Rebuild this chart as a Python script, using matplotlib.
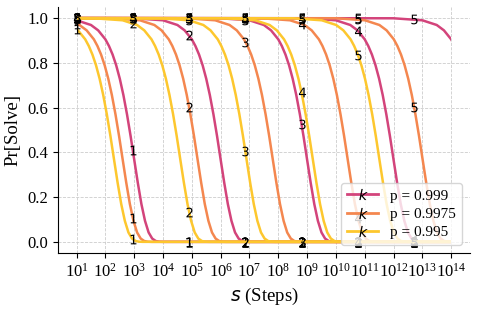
import numpy as np
import matplotlib
matplotlib.use("Agg")
import matplotlib.pyplot as plt
from matplotlib.lines import Line2D
from matplotlib.patches import Rectangle
from matplotlib.ticker import NullLocator

plt.rcParams["font.family"] = "Liberation Serif"
plt.rcParams["mathtext.fontset"] = "dejavusans"

p_labels = ["p = 0.999", "p = 0.9975", "p = 0.995"]
colors = ["#d3447b", "#f4874f", "#fdc72e"]
ks = [1, 2, 3, 4, 5]

# log10(s) where each curve has dropped to ~0.37, for k = 1..5
mid_999 = [3.00, 6.00, 9.00, 12.00, 15.00]
mid_9975 = [2.60, 5.20, 7.81, 10.41, 13.01]
mid_995 = [2.30, 4.60, 6.90, 9.20, 11.51]

# every curve has the same drop-off shape: offset in decades -> Pr[Solve]
shape_u = [-14, -3, -2, -1.5, -1.25, -1.0, -0.875, -0.75, -0.625, -0.5, -0.375,
           -0.25, -0.125, 0, 0.125, 0.25, 0.375, 0.5, 0.625, 0.75, 0.875, 1.0, 14]
shape_pr = [1.0, 0.999, 0.990, 0.969, 0.945, 0.905, 0.875, 0.837, 0.789, 0.729, 0.656,
            0.570, 0.473, 0.368, 0.264, 0.169, 0.094, 0.042, 0.0147, 0.0036, 0.0006, 0.0, 0.0]

# numbered k labels along each curve
label_logs = [1.0, 2.952, 4.904, 6.856, 8.808, 10.760, 12.712]
label_999 = [
    [0.990, 0.409, 0.0, 0.0, 0.0, 0.0, 0.0],
    [1.0, 0.999, 0.923, 0.001, 0.0, 0.0, 0.0],
    [1.0, 1.0, 1.0, 0.993, 0.526, 0.0, 0.0],
    [1.0, 1.0, 1.0, 1.0, 0.999, 0.944, 0.006],
    [1.0, 1.0, 1.0, 1.0, 1.0, 1.0, 0.995],
]
label_9975 = [
    [0.975, 0.106, 0.0, 0.0, 0.0, 0.0, 0.0],
    [1.0, 0.994, 0.603, 0.0, 0.0, 0.0, 0.0],
    [1.0, 1.0, 0.999, 0.895, 0.0, 0.0, 0.0],
    [1.0, 1.0, 1.0, 1.0, 0.975, 0.107, 0.0],
    [1.0, 1.0, 1.0, 1.0, 1.0, 0.994, 0.604],
]
label_995 = [
    [0.951, 0.011, 0.0, 0.0, 0.0, 0.0, 0.0],
    [1.0, 0.978, 0.135, 0.0, 0.0, 0.0, 0.0],
    [1.0, 1.0, 0.990, 0.408, 0.0, 0.0, 0.0],
    [1.0, 1.0, 1.0, 0.996, 0.669, 0.0, 0.0],
    [1.0, 1.0, 1.0, 1.0, 0.998, 0.835, 0.0],
]

fig, ax = plt.subplots(figsize=(4.78, 3.12), dpi=100)
fig.subplots_adjust(left=0.121, right=0.983, bottom=0.189, top=0.978)
ax.set_xscale("log")
ax.set_xlim(10 ** 0.35, 10 ** 14.65)
ax.set_ylim(-0.05, 1.05)

# curves only run from 10^1 to 10^14
clip = Rectangle((10, -1), 1e14 - 10, 3, transform=ax.transData)

all_mids = [mid_999, mid_9975, mid_995]
all_labels = [label_999, label_9975, label_995]
for mids, labs, c in zip(all_mids, all_labels, colors):
    for k, m, ly in zip(ks, mids, labs):
        x = 10 ** (m + np.array(shape_u))
        line, = ax.plot(x, shape_pr, color=c, lw=1.8)
        line.set_clip_path(clip)
        ax.plot(10 ** np.array(label_logs), ly, ls="none", marker=f"${k}$",
                ms=7, color="k", mew=0)

ax.set_xticks(10.0 ** np.arange(1, 15))
ax.xaxis.set_minor_locator(NullLocator())
ax.set_yticks([0.0, 0.2, 0.4, 0.6, 0.8, 1.0])
ax.tick_params(labelsize=12)
ax.grid(True, ls="--", color="#cccccc", lw=0.6)
ax.set_axisbelow(True)
ax.spines["top"].set_visible(False)
ax.spines["right"].set_visible(False)

ax.set_xlabel("$s$ (Steps)", fontsize=13.5)
ax.set_ylabel("Pr[Solve]", fontsize=13.5)

handles = [Line2D([], [], color=c, lw=2, marker="$k$", mfc="k", mec="k", mew=0, ms=8)
           for c in colors]
ax.legend(handles, p_labels, loc="lower right", fontsize=11, labelspacing=0.3)

fig.savefig("out.png")
